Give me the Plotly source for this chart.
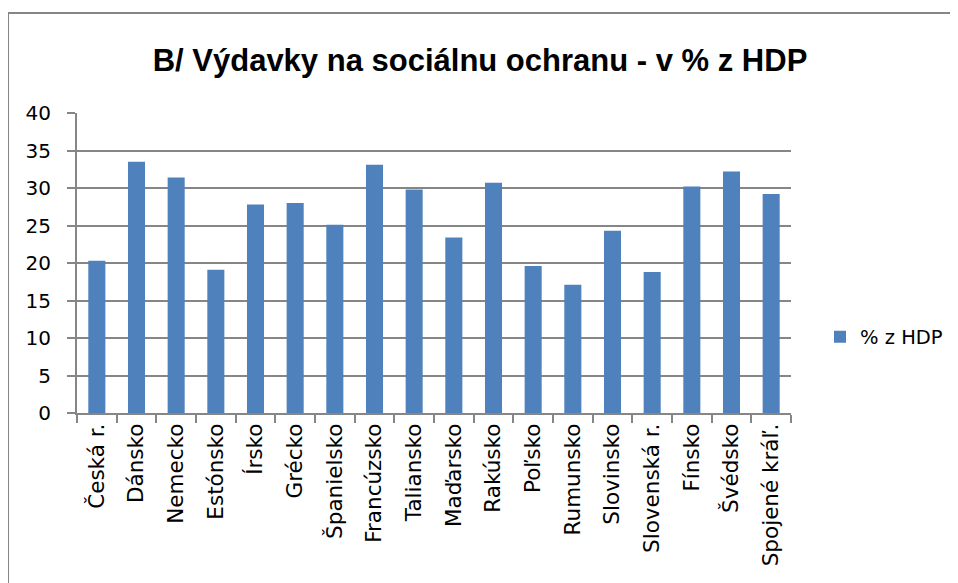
import plotly.graph_objects as go

categories = ["Česká r.", "Dánsko", "Nemecko", "Estónsko", "Írsko", "Grécko",
              "Španielsko", "Francúzsko", "Taliansko", "Maďarsko", "Rakúsko",
              "Poľsko", "Rumunsko", "Slovinsko", "Slovenská r.", "Fínsko",
              "Švédsko", "Spojené kráľ."]
values = [20.3, 33.5, 31.4, 19.1, 27.8, 28.0, 25.1, 33.1, 29.8, 23.4, 30.7,
          19.6, 17.1, 24.3, 18.8, 30.2, 32.2, 29.2]
series_name = "% z HDP"
title_text = "B/ Výdavky na sociálnu ochranu - v % z HDP"
y_ticks = [0, 5, 10, 15, 20, 25, 30, 35, 40]

W, H = 958, 583
OFF = 8  # page body offset
# target page-pixel positions of the plot area
PL, PR, PT, PB = 77, 791, 113, 413
L = PL - OFF
T = PT - OFF
R = W - (PR - OFF)
B = H - (PB - OFF)
pw, ph = PR - PL, PB - PT

def px2x(px):
    return (px - PL) / pw

def py2y(py):
    return (PB - py) / ph

fig = go.Figure()
fig.add_trace(go.Bar(
    x=categories, y=values, name=series_name, showlegend=True,
    marker=dict(color="#4F81BD", line=dict(width=0)),
))

grid = "#868686"
fig.update_layout(
    width=W, height=H,
    margin=dict(l=L, r=R, t=T, b=B),
    paper_bgcolor="white", plot_bgcolor="white",
    bargap=0.57,
    font=dict(family="DejaVu Sans, sans-serif", size=18, color="#000000"),
    title=dict(text="<b>" + title_text + "</b>", x=(480 - OFF) / W, xref="container", xanchor="center",
               y=1 - (60 - OFF) / H, yref="container", yanchor="middle",
               font=dict(family="Liberation Sans, Arial, sans-serif", size=31, color="#000000")),
    legend=dict(x=px2x(820), y=py2y(337), xanchor="left", yanchor="middle",
                font=dict(size=19.5), bgcolor="rgba(0,0,0,0)"),
    xaxis=dict(
        type="category", tickangle=-90, ticks="outside", tickson="boundaries",
        ticklen=8, tickcolor=grid, tickwidth=2, showline=True, linecolor=grid, linewidth=2,
        showgrid=False, automargin=False, tickfont=dict(size=21.5),
    ),
    yaxis=dict(
        range=[0, 40], tickvals=y_ticks, ticks="outside", ticklen=8, tickcolor=grid,
        tickwidth=2, showline=True, linecolor=grid, linewidth=2,
        showgrid=True, gridcolor=grid, gridwidth=2, zeroline=False,
        automargin=False, tickfont=dict(size=20), ticklabelstandoff=12,
    ),
    shapes=[dict(type="rect", xref="paper", yref="paper",
                 x0=px2x(8), x1=px2x(965), y0=py2y(13), y1=py2y(640),
                 line=dict(color=grid, width=2), fillcolor="rgba(0,0,0,0)", layer="below")],
)

fig.write_html("out.html")
